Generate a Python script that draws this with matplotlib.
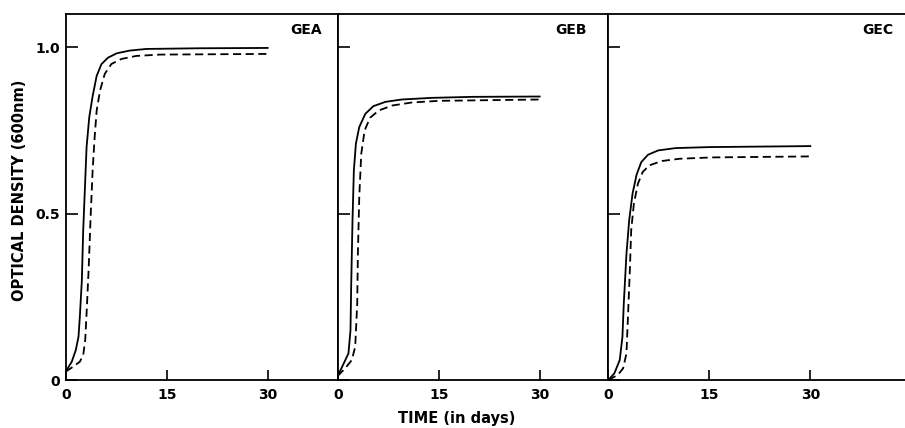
import matplotlib
matplotlib.use("Agg")
import matplotlib.pyplot as plt

# growth curves: days vs optical density (600 nm)
gea_solid_x = [0, 0.9, 1.5, 1.9, 2.1, 2.4, 2.6, 2.9, 3.1, 3.5, 4.0, 4.6, 5.3, 6.3, 7.6, 9.5, 12, 20, 30]
gea_solid_y = [0.025, 0.055, 0.09, 0.13, 0.19, 0.30, 0.45, 0.60, 0.70, 0.79, 0.853, 0.914, 0.949, 0.969, 0.982, 0.99, 0.995, 0.997, 0.998]
gea_dash_x = [0, 1.1, 2.1, 2.6, 2.9, 3.1, 3.4, 3.7, 4.0, 4.3, 4.6, 5.1, 5.8, 6.8, 8.3, 10.5, 14, 30]
gea_dash_y = [0.025, 0.04, 0.055, 0.075, 0.12, 0.20, 0.33, 0.49, 0.63, 0.73, 0.81, 0.87, 0.92, 0.95, 0.965, 0.974, 0.978, 0.98]

geb_solid_x = [0, 0.9, 1.6, 1.9, 2.0, 2.2, 2.4, 2.7, 3.2, 4.1, 5.3, 7.1, 9.5, 14, 20, 30]
geb_solid_y = [0.012, 0.05, 0.08, 0.15, 0.28, 0.48, 0.63, 0.71, 0.76, 0.80, 0.823, 0.836, 0.843, 0.848, 0.851, 0.852]
geb_dash_x = [0, 1.1, 2.1, 2.6, 2.9, 3.0, 3.2, 3.5, 4.0, 4.8, 6.1, 8.1, 11, 15, 30]
geb_dash_y = [0.012, 0.035, 0.06, 0.10, 0.23, 0.38, 0.55, 0.68, 0.75, 0.788, 0.81, 0.825, 0.834, 0.839, 0.843]

gec_solid_x = [0, 0.9, 1.7, 2.1, 2.3, 2.7, 3.1, 3.6, 4.2, 4.9, 5.9, 7.4, 10, 15, 30]
gec_solid_y = [0.0, 0.02, 0.06, 0.13, 0.23, 0.38, 0.48, 0.56, 0.617, 0.655, 0.677, 0.69, 0.697, 0.70, 0.703]
gec_dash_x = [0, 1.4, 2.2, 2.7, 2.9, 3.2, 3.4, 3.8, 4.4, 5.1, 6.1, 7.9, 10.6, 15.5, 30]
gec_dash_y = [0.0, 0.015, 0.035, 0.08, 0.18, 0.33, 0.45, 0.53, 0.59, 0.625, 0.645, 0.658, 0.665, 0.669, 0.672]

panel_names = ["GEA", "GEB", "GEC"]
x_ticks = [0, 15, 30]
y_ticks = [0, 0.5, 1.0]
y_tick_labels = ["0", "0.5", "1.0"]

plt.rcParams['font.family'] = ['DejaVu Sans']
plt.rcParams['font.weight'] = 'bold'

W, H = 905, 428
fig = plt.figure(figsize=(W / 100, H / 100), dpi=100)

px_per_day = 272 / 40.4
panels = [(65.7, 337.7), (337.7, 608.3), (608.3, 915)]
top, bottom = 14, 380

series = [
    (gea_solid_x, gea_solid_y, gea_dash_x, gea_dash_y),
    (geb_solid_x, geb_solid_y, geb_dash_x, geb_dash_y),
    (gec_solid_x, gec_solid_y, gec_dash_x, gec_dash_y),
]
title_right = [322, 587, 893]

for i, (x0, x1) in enumerate(panels):
    ax = fig.add_axes([x0 / W, (H - bottom) / H, (x1 - x0) / W, (bottom - top) / H])
    sx, sy, dx, dy = series[i]
    ax.plot(sx, sy, color='black', lw=1.3, solid_joinstyle='round')
    ax.plot(dx, dy, color='black', lw=1.3, linestyle=(0, (4.5, 2.5)))
    ax.set_xlim(0, (x1 - x0) / px_per_day)
    ax.set_ylim(0, 1.1)
    ax.set_xticks(x_ticks)
    ax.set_xticklabels([str(t) for t in x_ticks], fontsize=10)
    ax.set_yticks(y_ticks)
    if i == 0:
        ax.set_yticklabels(y_tick_labels, fontsize=10)
    else:
        ax.set_yticklabels([])
    ax.tick_params(axis='x', direction='in', length=7, width=1.2, pad=6)
    ax.tick_params(axis='y', direction='in', length=8.5, width=1.2, pad=4)
    for s in ax.spines.values():
        s.set_linewidth(1.3)
    if i == 2:
        ax.spines['right'].set_visible(False)
    fig.text(title_right[i] / W, (H - 30) / H, panel_names[i], ha='right', va='center',
             fontsize=10)

fig.text(20 / W, (H - 190) / H, "OPTICAL DENSITY (600nm)", rotation=90,
         ha='center', va='center', fontsize=10.5)
fig.text(456.7 / W, (H - 419) / H, "TIME (in days)", ha='center', va='center', fontsize=10.5)

fig.savefig("out.png", dpi=100)
